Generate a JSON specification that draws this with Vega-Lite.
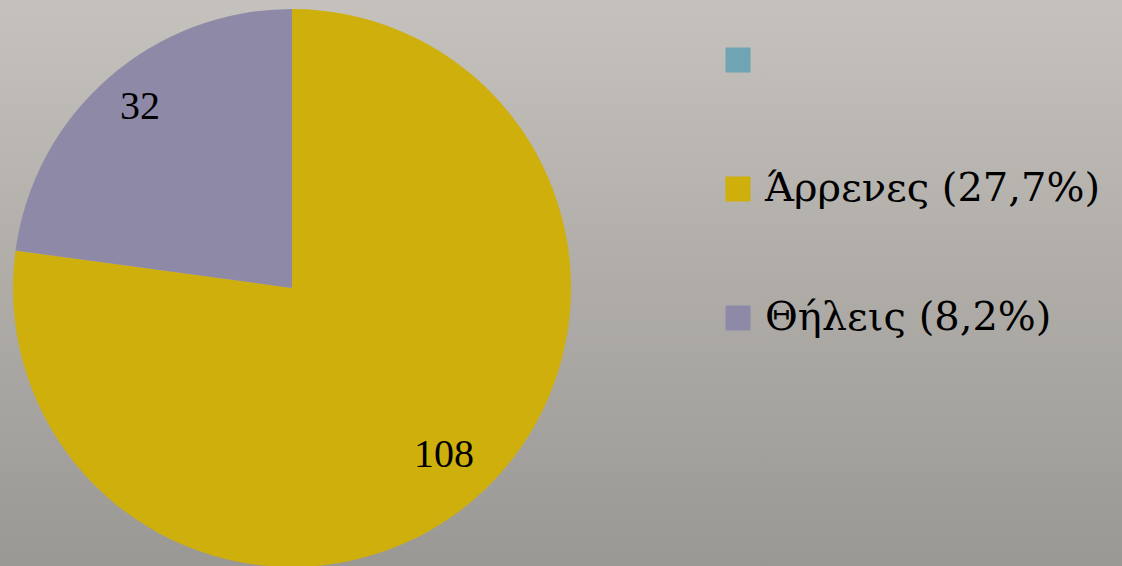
{
  "$schema": "https://vega.github.io/schema/vega-lite/v6.json",
  "width": 1122,
  "height": 566,
  "padding": 0,
  "autosize": {"type": "none"},
  "background": "#B3B0AC",
  "config": {"view": {"stroke": null}},
  "layer": [
    {
      "data": {"values": [{"bg": 1}]},
      "mark": {
        "type": "rect",
        "fill": {
          "gradient": "linear",
          "x1": 0, "y1": 0, "x2": 0, "y2": 1,
          "stops": [
            {"offset": 0, "color": "#C5C1BC"},
            {"offset": 1, "color": "#9A9895"}
          ]
        }
      },
      "encoding": {
        "x": {"value": 0},
        "x2": {"value": "width"},
        "y": {"value": 0},
        "y2": {"value": "height"}
      }
    },
    {
      "data": {
        "values": [
          {"label": "\u00a0\u00a0Άρρενες (27,7%)", "value": 108},
          {"label": "Θήλεις (8,2%)", "value": 32}
        ]
      },
      "layer": [
        {
          "mark": {"type": "arc", "x": 292, "y": 288, "outerRadius": 279},
          "encoding": {
            "theta": {"field": "value", "type": "quantitative", "stack": true},
            "order": {"field": "label", "sort": "ascending"},
            "color": {
              "field": "label",
              "type": "nominal",
              "scale": {
                "domain": [" ", "\u00a0\u00a0Άρρενες (27,7%)", "Θήλεις (8,2%)"],
                "range": ["#6FA4B4", "#CEAF0C", "#8E89A6"]
              },
              "legend": {
                "title": null,
                "orient": "none",
                "legendX": 718,
                "legendY": 40,
                "symbolType": "square",
                "symbolSize": 625,
                "symbolStrokeWidth": 0,
                "symbolOpacity": 1,
                "labelFont": "DejaVu Serif",
                "labelFontSize": 40,
                "labelColor": "#000000",
                "labelOffset": 7,
                "labelLimit": 500,
                "rowPadding": 89,
                "padding": 0
              }
            }
          }
        },
        {
          "mark": {
            "type": "text",
            "x": 292,
            "y": 288,
            "radius": 231,
            "dy": -7,
            "font": "Liberation Serif",
            "fontSize": 40,
            "color": "#000000",
            "align": "center",
            "baseline": "middle"
          },
          "encoding": {
            "theta": {"field": "value", "type": "quantitative", "stack": true},
            "order": {"field": "label", "sort": "ascending"},
            "text": {"field": "value", "type": "quantitative"}
          }
        }
      ]
    }
  ]
}
